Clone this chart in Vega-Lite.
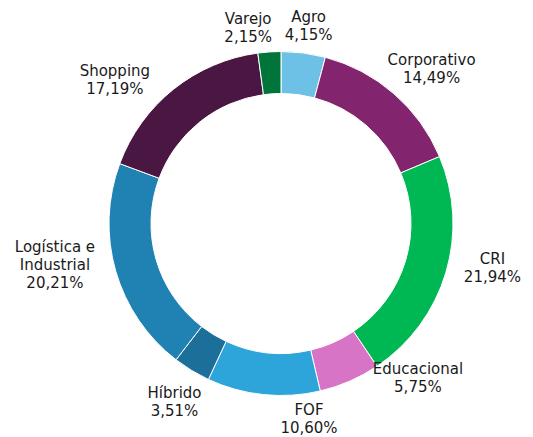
{
  "$schema": "https://vega.github.io/schema/vega-lite/v6.json",
  "width": 504,
  "height": 427,
  "autosize": "none",
  "padding": {"left": 29, "top": 10, "right": 0, "bottom": 0},
  "background": "white",
  "config": {"view": {"stroke": null}, "text": {"radius": 205, "font": "DejaVu Sans", "fontSize": 15, "lineHeight": 18, "lineBreak": "\n", "color": "#1a1a1a", "align": "center", "baseline": "middle"}},
  "data": {
    "values": [
      {"ord": 1, "category": "Agro", "value": 4.15, "label": "Agro\n4,15%"},
      {"ord": 2, "category": "Corporativo", "value": 14.49, "label": "Corporativo\n14,49%"},
      {"ord": 3, "category": "CRI", "value": 21.94, "label": "CRI\n21,94%"},
      {"ord": 4, "category": "Educacional", "value": 5.75, "label": "Educacional\n5,75%"},
      {"ord": 5, "category": "FOF", "value": 10.60, "label": "FOF\n10,60%"},
      {"ord": 6, "category": "Híbrido", "value": 3.51, "label": "Híbrido\n3,51%"},
      {"ord": 7, "category": "Logística e Industrial", "value": 20.21, "label": "Logística e\nIndustrial\n20,21%"},
      {"ord": 8, "category": "Shopping", "value": 17.19, "label": "Shopping\n17,19%"},
      {"ord": 9, "category": "Varejo", "value": 2.15, "label": "Varejo\n2,15%"}
    ]
  },
  "transform": [
    {"stack": "value", "groupby": [], "sort": [{"field": "ord"}], "as": ["v0", "v1"]},
    {"calculate": "(datum.v0 + datum.v1) / 2", "as": "mid"}
  ],
  "layer": [
    {
      "mark": {"type": "arc", "radius": 172, "radius2": 130, "stroke": "white", "strokeWidth": 1},
      "encoding": {
        "theta": {"field": "v0", "type": "quantitative", "scale": {"domain": [0, 99.99], "range": [0, 6.283185307]}},
        "theta2": {"field": "v1"},
        "color": {
          "field": "category", "type": "nominal", "legend": null,
          "scale": {
            "domain": ["Agro", "Corporativo", "CRI", "Educacional", "FOF", "Híbrido", "Logística e Industrial", "Shopping", "Varejo"],
            "range": ["#6DC1E7", "#83246F", "#00B853", "#D774C6", "#2DA4DA", "#1B6F98", "#1F82B3", "#4A1742", "#00753A"]
          }
        }
      }
    },
    {
      "transform": [{"filter": {"field": "category", "equal": "Agro"}}],
      "mark": {"type": "text", "dx": 1, "dy": -3},
      "encoding": {"theta": {"field": "mid", "type": "quantitative"}, "text": {"field": "label"}}
    },
    {
      "transform": [{"filter": {"field": "category", "equal": "Corporativo"}}],
      "mark": {"type": "text", "dx": 16, "dy": -9},
      "encoding": {"theta": {"field": "mid", "type": "quantitative"}, "text": {"field": "label"}}
    },
    {
      "transform": [{"filter": {"field": "category", "equal": "CRI"}}],
      "mark": {"type": "text", "dx": 15, "dy": -23},
      "encoding": {"theta": {"field": "mid", "type": "quantitative"}, "text": {"field": "label"}}
    },
    {
      "transform": [{"filter": {"field": "category", "equal": "Educacional"}}],
      "mark": {"type": "text", "dx": 55, "dy": -42},
      "encoding": {"theta": {"field": "mid", "type": "quantitative"}, "text": {"field": "label"}}
    },
    {
      "transform": [{"filter": {"field": "category", "equal": "FOF"}}],
      "mark": {"type": "text", "dx": 49, "dy": -17},
      "encoding": {"theta": {"field": "mid", "type": "quantitative"}, "text": {"field": "label"}}
    },
    {
      "transform": [{"filter": {"field": "category", "equal": "Híbrido"}}],
      "mark": {"type": "text", "dx": 0, "dy": -6},
      "encoding": {"theta": {"field": "mid", "type": "quantitative"}, "text": {"field": "label"}}
    },
    {
      "transform": [{"filter": {"field": "category", "equal": "Logística e Industrial"}}],
      "mark": {"type": "text", "dx": -29, "dy": -33},
      "encoding": {"theta": {"field": "mid", "type": "quantitative"}, "text": {"field": "label"}}
    },
    {
      "transform": [{"filter": {"field": "category", "equal": "Shopping"}}],
      "mark": {"type": "text", "dx": -38, "dy": 8},
      "encoding": {"theta": {"field": "mid", "type": "quantitative"}, "text": {"field": "label"}}
    },
    {
      "transform": [{"filter": {"field": "category", "equal": "Varejo"}}],
      "mark": {"type": "text", "dx": -19, "dy": 0},
      "encoding": {"theta": {"field": "mid", "type": "quantitative"}, "text": {"field": "label"}}
    }
  ]
}
